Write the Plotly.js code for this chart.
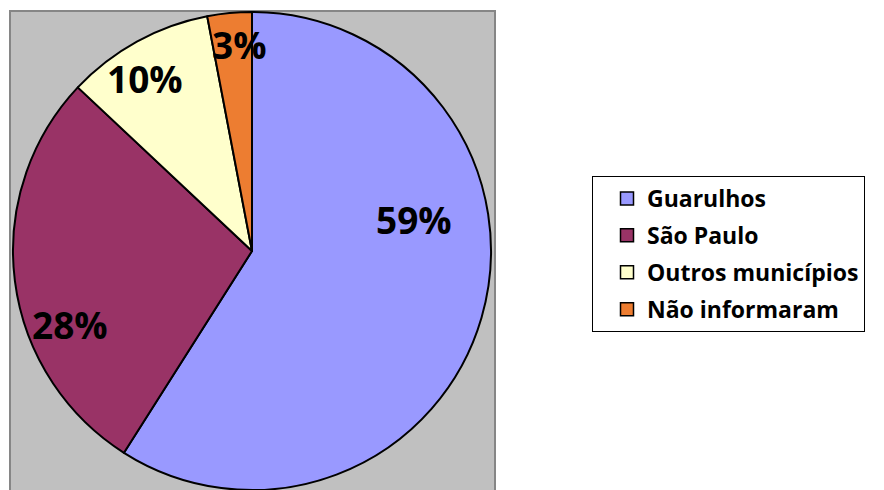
<!DOCTYPE html>
<html>
<head>
<meta charset="utf-8">
<script src="https://cdn.plot.ly/plotly-3.0.1.min.js"></script>
<style>html,body{margin:0;padding:0;background:#fff;}#chart{width:884px;height:490px;}</style>
</head>
<body>
<div id="chart"></div>
<script>
const categories = ["Guarulhos", "São Paulo", "Outros municípios", "Não informaram"];
const values = [59, 28, 10, 3];
const colors = ["#9999ff", "#993366", "#ffffcc", "#ed7d31"];

const W = 884, H = 490;
const FONT = "Open Sans, Lato, Liberation Sans, sans-serif";

// label anchor positions (pixels from top-left), layout only
const labelPos = [[414, 219], [70, 324], [145, 78], [240, 45]];

const total = values.reduce((a, b) => a + b, 0);
const pctText = values.map(v => Math.round(v / total * 100) + "%");

const pie = {
  type: "pie",
  labels: categories,
  values: values,
  sort: false,
  direction: "clockwise",
  rotation: 0,
  marker: {colors: colors, line: {color: "#000000", width: 2}},
  textinfo: "none",
  hoverinfo: "none",
  showlegend: false,
  domain: {x: [12 / W, 492 / W], y: [0, 478 / H]}
};

// legend entries built from the same category/color arrays
const legendTraces = categories.map((c, i) => ({
  type: "scatter",
  x: [null], y: [null],
  mode: "markers",
  name: c,
  legendgroup: "g" + i,
  marker: {symbol: "square", size: 13, color: colors[i], line: {color: "#000000", width: 1.5}},
  hoverinfo: "none",
  showlegend: true
}));

const annotations = pctText.map((t, i) => ({
  text: t,
  xref: "paper", yref: "paper",
  x: labelPos[i][0] / W, y: 1 - labelPos[i][1] / H,
  xanchor: "center", yanchor: "middle",
  showarrow: false,
  font: {family: FONT, size: 37, weight: 700, color: "#000000"}
}));

const layout = {
  width: W, height: H,
  margin: {l: 0, r: 0, t: 0, b: 0},
  paper_bgcolor: "#ffffff",
  plot_bgcolor: "rgba(0,0,0,0)",
  xaxis: {visible: false, domain: [0.99, 1]},
  yaxis: {visible: false, domain: [0.99, 1]},
  showlegend: true,
  legend: {
    x: 592 / W, y: 1 - 176 / H, xanchor: "left", yanchor: "top",
    bgcolor: "#ffffff", bordercolor: "#000000", borderwidth: 1,
    font: {family: FONT, size: 23, weight: 700, color: "#000000"},
    traceorder: "grouped", tracegroupgap: 4, indentation: 14,
    entrywidth: 300, entrywidthmode: "pixels"
  },
  annotations: annotations,
  shapes: [{
    type: "rect", xref: "paper", yref: "paper", layer: "below",
    x0: 10 / W, x1: 495 / W, y0: -0.01, y1: 1 - 11 / H,
    fillcolor: "#c0c0c0", line: {color: "#868686", width: 2}
  }]
};

Plotly.newPlot("chart", [pie].concat(legendTraces), layout, {displayModeBar: false, staticPlot: true});
</script>
</body>
</html>
